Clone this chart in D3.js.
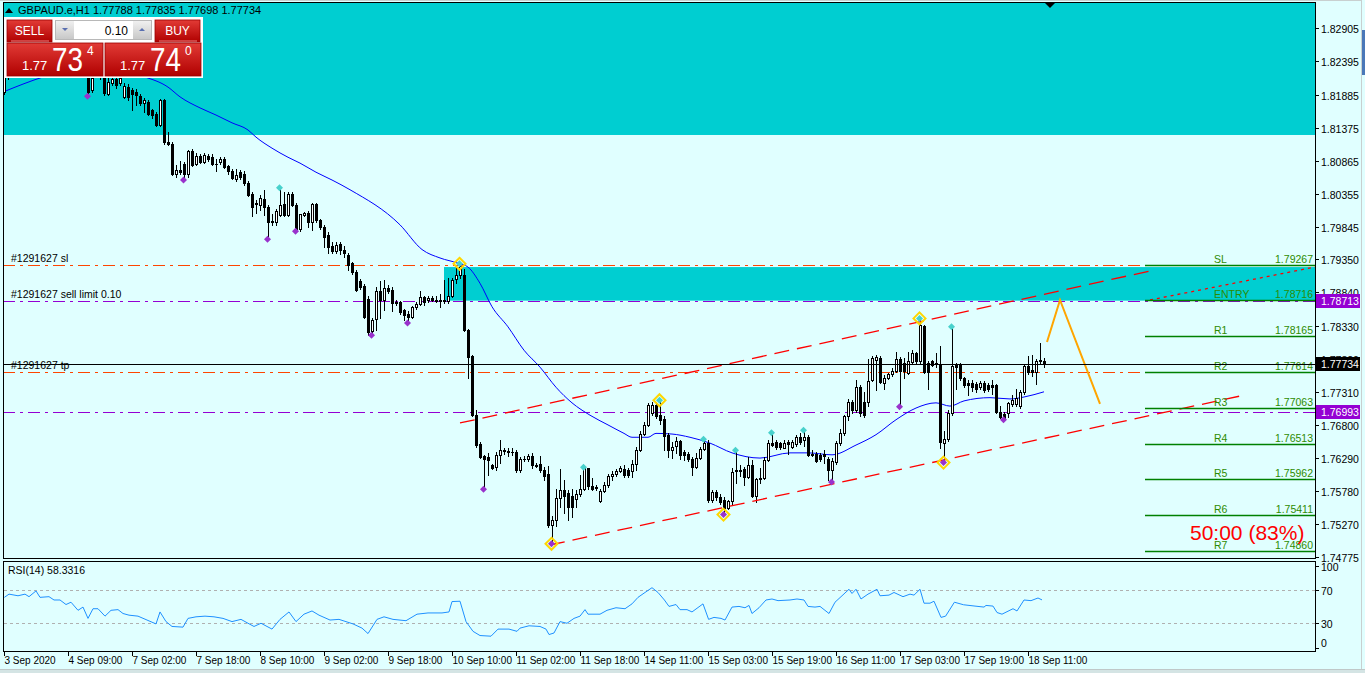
<!DOCTYPE html>
<html><head><meta charset="utf-8">
<script src="https://cdn.jsdelivr.net/npm/d3@7"></script>
<style>
body{margin:0;background:#e0ffff;overflow:hidden}
svg{display:block}
text{font-family:"Liberation Sans",Arial,sans-serif}
</style>
</head><body>
<svg id="c" width="1365" height="673"></svg>
<script>
// ---------------- DATA ----------------
const symbolTitle = "GBPAUD.e,H1  1.77788 1.77835 1.77698 1.77734";
// candles [open, high, low, close], one per H1 bar
const ohlc = [
[1.8193,1.8224,1.8190,1.8218],[1.8218,1.8230,1.8212,1.8226],[1.8226,1.8238,1.8220,1.8234],[1.8234,1.8240,1.8225,1.8229],
[1.8229,1.8245,1.8226,1.8242],[1.8242,1.8250,1.8236,1.8247],[1.8247,1.8258,1.8240,1.8244],[1.8244,1.8262,1.8241,1.8258],
[1.8258,1.8266,1.8249,1.8252],[1.8252,1.8260,1.8243,1.8246],[1.8246,1.8255,1.8238,1.8251],[1.8251,1.8263,1.8247,1.8260],
[1.8260,1.8268,1.8250,1.8254],[1.8254,1.8259,1.8240,1.8243],[1.8243,1.8252,1.8236,1.8248],[1.8248,1.8254,1.8235,1.8238],
[1.8238,1.8245,1.8228,1.8232],[1.8232,1.8240,1.8224,1.8236],[1.8236,1.8242,1.8225,1.8228],[1.8228,1.8235,1.8219,1.8223],
[1.8223,1.8230,1.8215,1.8217],[1.8216,1.8225,1.8186,1.8193],[1.8196,1.8222,1.8193,1.8214],[1.8216,1.8232,1.8216,1.8228],
[1.8228,1.8232,1.8212,1.8215],[1.8216,1.8222,1.8188,1.8191],[1.8190,1.8214,1.8188,1.8208],[1.8206,1.8216,1.8203,1.8212],
[1.8212,1.8216,1.8199,1.8203],[1.8206,1.8220,1.8203,1.8214],[1.8185,1.8206,1.8183,1.8201],[1.8200,1.8204,1.8180,1.8185],
[1.8195,1.8199,1.8165,1.8190],[1.8193,1.8197,1.8172,1.8188],[1.8187,1.8190,1.8172,1.8175],[1.8175,1.8183,1.8162,1.8180],
[1.8177,1.8180,1.8157,1.8159],[1.8165,1.8167,1.8152,1.8157],[1.8158,1.8162,1.8140,1.8142],[1.8142,1.8182,1.8140,1.8180],
[1.8180,1.8182,1.8113,1.8116],[1.8116,1.8131,1.8111,1.8112],[1.8112,1.8116,1.8065,1.8067],[1.8067,1.8080,1.8062,1.8072],
[1.8072,1.8086,1.8067,1.8069],[1.8082,1.8085,1.8057,1.8067],[1.8067,1.8103,1.8062,1.8101],[1.8101,1.8104,1.8078,1.8080],
[1.8082,1.8098,1.8080,1.8094],[1.8094,1.8097,1.8083,1.8085],[1.8085,1.8099,1.8083,1.8096],[1.8094,1.8097,1.8087,1.8090],
[1.8093,1.8097,1.8080,1.8082],[1.8082,1.8090,1.8071,1.8081],[1.8085,1.8093,1.8081,1.8090],[1.8089,1.8092,1.8075,1.8077],
[1.8078,1.8080,1.8067,1.8071],[1.8071,1.8074,1.8058,1.8060],[1.8059,1.8074,1.8056,1.8065],[1.8069,1.8072,1.8059,1.8062],
[1.8067,1.8071,1.8050,1.8053],[1.8053,1.8055,1.8032,1.8034],[1.8035,1.8039,1.8001,1.8016],[1.8020,1.8026,1.8006,1.8022],
[1.8019,1.8034,1.8011,1.8030],[1.8028,1.8041,1.8003,1.8016],[1.8016,1.8018,1.7966,1.7992],[1.7992,1.8005,1.7988,1.7994],
[1.7992,1.8012,1.7988,1.8010],[1.8003,1.8045,1.8001,1.8018],[1.8020,1.8039,1.8001,1.8003],[1.8003,1.8038,1.8001,1.8035],
[1.8035,1.8038,1.8017,1.8019],[1.8019,1.8021,1.7978,1.7981],[1.7981,1.8005,1.7979,1.8004],[1.8003,1.8008,1.8001,1.8006],
[1.8006,1.8010,1.7985,1.7992],[1.7992,1.8022,1.7980,1.8020],[1.8020,1.8022,1.7993,1.7995],[1.7995,1.7997,1.7982,1.7984],
[1.7985,1.7988,1.7954,1.7970],[1.7972,1.7977,1.7944,1.7954],[1.7956,1.7962,1.7945,1.7947],[1.7947,1.7962,1.7945,1.7957],
[1.7959,1.7962,1.7943,1.7949],[1.7950,1.7955,1.7939,1.7944],[1.7941,1.7944,1.7918,1.7926],[1.7929,1.7931,1.7912,1.7916],
[1.7916,1.7918,1.7886,1.7888],[1.7901,1.7904,1.7889,1.7892],[1.7894,1.7897,1.7844,1.7846],[1.7874,1.7878,1.7819,1.7823],
[1.7824,1.7845,1.7818,1.7841],[1.7843,1.7893,1.7826,1.7886],[1.7886,1.7902,1.7844,1.7873],[1.7873,1.7903,1.7857,1.7891],
[1.7891,1.7896,1.7883,1.7886],[1.7887,1.7893,1.7856,1.7868],[1.7869,1.7872,1.7865,1.7868],[1.7869,1.7871,1.7851,1.7854],
[1.7857,1.7859,1.7842,1.7849],[1.7851,1.7855,1.7837,1.7846],[1.7846,1.7863,1.7844,1.7861],[1.7861,1.7869,1.7859,1.7866],
[1.7866,1.7886,1.7864,1.7877],[1.7877,1.7879,1.7864,1.7869],[1.7872,1.7879,1.7869,1.7875],[1.7875,1.7878,1.7870,1.7873],
[1.7872,1.7879,1.7869,1.7871],[1.7873,1.7882,1.7861,1.7870],[1.7870,1.7903,1.7868,1.7872],[1.7871,1.7906,1.7868,1.7879],
[1.7879,1.7906,1.7877,1.7903],[1.7905,1.7921,1.7898,1.7911],[1.7911,1.7928,1.7906,1.7924],[1.7911,1.7920,1.7824,1.7826],
[1.7826,1.7828,1.7752,1.7785],[1.7786,1.7788,1.7693,1.7695],[1.7695,1.7703,1.7646,1.7649],[1.7650,1.7653,1.7629,1.7631],
[1.7632,1.7634,1.7581,1.7628],[1.7631,1.7637,1.7603,1.7626],[1.7618,1.7620,1.7612,1.7614],[1.7615,1.7638,1.7610,1.7634],
[1.7634,1.7657,1.7621,1.7642],[1.7641,1.7645,1.7635,1.7640],[1.7640,1.7644,1.7632,1.7638],[1.7639,1.7644,1.7634,1.7639],
[1.7639,1.7641,1.7608,1.7610],[1.7610,1.7630,1.7608,1.7628],[1.7628,1.7632,1.7624,1.7627],[1.7627,1.7635,1.7625,1.7632],
[1.7632,1.7637,1.7613,1.7618],[1.7619,1.7622,1.7615,1.7617],[1.7620,1.7632,1.7608,1.7611],[1.7611,1.7615,1.7595,1.7601],
[1.7604,1.7617,1.7523,1.7526],[1.7526,1.7540,1.7497,1.7534],[1.7534,1.7581,1.7524,1.7567],[1.7567,1.7612,1.7554,1.7580],
[1.7580,1.7595,1.7544,1.7570],[1.7576,1.7580,1.7534,1.7554],[1.7571,1.7581,1.7539,1.7554],[1.7566,1.7580,1.7554,1.7573],
[1.7573,1.7603,1.7570,1.7581],[1.7581,1.7615,1.7580,1.7613],[1.7613,1.7614,1.7581,1.7586],[1.7586,1.7599,1.7580,1.7582],
[1.7585,1.7588,1.7580,1.7583],[1.7563,1.7581,1.7561,1.7578],[1.7578,1.7592,1.7577,1.7587],[1.7587,1.7605,1.7584,1.7601],
[1.7601,1.7609,1.7596,1.7605],[1.7605,1.7612,1.7601,1.7609],[1.7609,1.7617,1.7607,1.7613],[1.7612,1.7619,1.7600,1.7603],
[1.7610,1.7613,1.7600,1.7603],[1.7609,1.7626,1.7600,1.7620],[1.7620,1.7646,1.7611,1.7642],[1.7642,1.7671,1.7640,1.7666],
[1.7666,1.7685,1.7665,1.7680],[1.7680,1.7713,1.7678,1.7711],[1.7698,1.7716,1.7695,1.7711],[1.7711,1.7716,1.7690,1.7694],
[1.7695,1.7718,1.7682,1.7687],[1.7689,1.7693,1.7642,1.7663],[1.7665,1.7667,1.7631,1.7642],[1.7642,1.7653,1.7629,1.7646],
[1.7647,1.7662,1.7637,1.7655],[1.7656,1.7657,1.7628,1.7633],[1.7638,1.7642,1.7626,1.7634],[1.7636,1.7638,1.7624,1.7627],
[1.7627,1.7630,1.7603,1.7616],[1.7616,1.7637,1.7614,1.7629],[1.7629,1.7646,1.7627,1.7643],[1.7643,1.7658,1.7641,1.7652],
[1.7652,1.7657,1.7562,1.7564],[1.7564,1.7580,1.7561,1.7577],[1.7577,1.7580,1.7564,1.7569],[1.7569,1.7574,1.7559,1.7562],
[1.7565,1.7569,1.7542,1.7552],[1.7552,1.7565,1.7550,1.7563],[1.7563,1.7613,1.7558,1.7608],[1.7610,1.7641,1.7590,1.7609],
[1.7609,1.7619,1.7601,1.7611],[1.7612,1.7615,1.7587,1.7600],[1.7600,1.7631,1.7598,1.7618],[1.7618,1.7626,1.7569,1.7571],
[1.7571,1.7599,1.7562,1.7597],[1.7597,1.7613,1.7590,1.7599],[1.7598,1.7631,1.7597,1.7626],[1.7626,1.7657,1.7625,1.7652],
[1.7652,1.7668,1.7647,1.7649],[1.7654,1.7657,1.7643,1.7646],[1.7652,1.7654,1.7643,1.7646],[1.7645,1.7657,1.7644,1.7652],
[1.7653,1.7657,1.7636,1.7651],[1.7646,1.7657,1.7644,1.7654],[1.7651,1.7665,1.7647,1.7661],[1.7661,1.7667,1.7651,1.7654],
[1.7657,1.7672,1.7647,1.7661],[1.7661,1.7665,1.7632,1.7634],[1.7636,1.7641,1.7632,1.7634],[1.7636,1.7639,1.7623,1.7625],
[1.7634,1.7637,1.7625,1.7627],[1.7636,1.7641,1.7621,1.7632],[1.7628,1.7631,1.7596,1.7610],[1.7610,1.7629,1.7592,1.7625],
[1.7623,1.7655,1.7620,1.7652],[1.7652,1.7673,1.7649,1.7668],[1.7668,1.7695,1.7665,1.7693],[1.7693,1.7720,1.7688,1.7716],
[1.7716,1.7719,1.7698,1.7703],[1.7703,1.7749,1.7700,1.7739],[1.7739,1.7742,1.7694,1.7698],[1.7716,1.7731,1.7692,1.7695],
[1.7716,1.7781,1.7709,1.7748],[1.7749,1.7786,1.7747,1.7783],[1.7780,1.7788,1.7734,1.7784],[1.7783,1.7786,1.7744,1.7746],
[1.7745,1.7757,1.7735,1.7753],[1.7753,1.7760,1.7751,1.7758],[1.7758,1.7767,1.7756,1.7763],[1.7763,1.7792,1.7762,1.7781],
[1.7781,1.7784,1.7708,1.7763],[1.7776,1.7783,1.7752,1.7763],[1.7760,1.7792,1.7758,1.7779],[1.7777,1.7795,1.7775,1.7791],
[1.7790,1.7792,1.7776,1.7779],[1.7779,1.7844,1.7775,1.7834],[1.7832,1.7834,1.7760,1.7762],[1.7776,1.7778,1.7735,1.7762],
[1.7778,1.7780,1.7770,1.7772],[1.7776,1.7790,1.7769,1.7774],[1.7774,1.7801,1.7644,1.7653],[1.7652,1.7670,1.7622,1.7658],
[1.7658,1.7703,1.7656,1.7698],[1.7698,1.7831,1.7695,1.7770],[1.7772,1.7775,1.7736,1.7769],[1.7772,1.7775,1.7749,1.7752],
[1.7752,1.7754,1.7738,1.7741],[1.7745,1.7749,1.7726,1.7741],[1.7745,1.7749,1.7733,1.7738],[1.7743,1.7746,1.7731,1.7735],
[1.7738,1.7748,1.7736,1.7745],[1.7745,1.7747,1.7731,1.7734],[1.7741,1.7744,1.7733,1.7736],[1.7741,1.7749,1.7728,1.7739],
[1.7741,1.7743,1.7698,1.7700],[1.7700,1.7709,1.7690,1.7692],[1.7697,1.7700,1.7688,1.7691],[1.7698,1.7716,1.7692,1.7713],
[1.7712,1.7726,1.7709,1.7718],[1.7712,1.7735,1.7709,1.7721],[1.7709,1.7734,1.7706,1.7730],[1.7730,1.7772,1.7728,1.7770],
[1.7770,1.7786,1.7759,1.7762],[1.7764,1.7788,1.7755,1.7762],[1.7762,1.7782,1.7743,1.7779],[1.7779,1.7806,1.7774,1.7780],
[1.77788,1.77835,1.77698,1.77734]
];
// moving average (blue) read at bar positions
const maBars = [0,10,16,24,35,41,44,49,53,57,61,63,67,71,74,78,82,86.5,99,104.5,109,113.5,116,119,122,126,130,134,138,142,146.5,151,155,157,161,163,167,171.5,176.5,182,189,196.5,201,207,213,218,223,228,233,236.5,240,246.5,251.5,255,260];
const maVals = [1.8193,1.8216,1.8226,1.8228,1.8216,1.8200,1.8185,1.8168,1.8157,1.8145,1.8134,1.8123,1.8106,1.8092,1.8083,1.8069,1.8057,1.8042,1.7988,1.7950,1.7937,1.7929,1.7923,1.7898,1.7862,1.7831,1.7795,1.7769,1.7738,1.7714,1.7695,1.7680,1.7667,1.7661,1.7661,1.7667,1.7666,1.7661,1.7652,1.7637,1.7629,1.7637,1.7637,1.7634,1.7649,1.7665,1.7688,1.7706,1.7714,1.7709,1.7717,1.7722,1.7720,1.7723,1.7731];
// fractals
const fractalLowBars = [21,45,66,73,92,101,120,137,180,207,224,235,250];
const fractalHighBars = [69,114,145,164,175,183,192,200,229,237];
const majorBars = [114,137,164,180,229,235];
// RSI(14)
const rsiBars = [0.1,1.25,3.5,5.25,6.25,8,9,11.25,12.5,14,15.5,16.75,18.5,19.75,21,22.25,23.5,25.25,26.75,28.5,29.75,31.25,33.5,35.75,38,39,40.5,42,44.75,46,48,50.25,52.5,54.75,57,59.25,61,62.5,64.25,67,69,71.25,73,75,77,78.75,81.5,83.75,87.25,89.5,91,93.25,95,97.25,100.5,103.25,106,109.5,111.25,112,114,115.5,117.25,119,121.75,123.5,126.25,128.25,129,131.25,134,135.5,136.25,137.5,139,140.75,142.5,144,145.25,146,149,150.75,153,155.25,157,158.5,160.25,162,163.5,165.1,166.25,168,169,170.75,172,174.75,176.15,177.5,179.25,180.25,182,183.75,185.25,186.25,187,188.75,190.5,192,193.5,196.5,198.25,200,201,202.75,204,206.25,207.75,209.5,211.25,212,213,214.25,216,218.25,219,221.25,222.5,224.75,226.5,227.5,229,230,231.5,232.5,234.25,235.4,237.6,239.9,242.75,245,245.5,247.25,248.25,249.5,252.25,253.25,255,256.75,258.5,259.5];
const rsiVals = [61.4,65.3,63.3,65.3,62.2,69.2,61.4,62.2,58.2,58.2,52.7,55.5,45.7,49.6,35.9,47.6,47.6,38.6,45.7,46.5,41.8,39.8,38.6,33.9,29.2,43.7,32.0,26.1,25.3,35.9,37.8,38.6,37.8,35.9,32.0,34.7,30.0,26.1,30.0,22.9,34.7,43.7,32.0,41.0,44.9,39.8,33.9,34.7,29.2,24.1,17.5,34.7,37.8,34.7,33.1,41.0,42.5,42.5,43.7,56.3,56.7,32.0,20.2,15.1,14.3,22.9,22.9,20.2,24.1,26.9,26.1,22.9,16.3,18.2,32.0,30.0,35.9,38.6,46.5,41.0,41.0,45.7,48.8,47.6,53.5,61.4,67.3,73.1,67.3,58.2,50.4,52.7,46.5,46.5,43.7,53.5,34.7,37.1,35.9,33.9,49.6,50.4,48.8,51.6,41.8,48.8,58.2,59.4,57.4,58.2,59.4,58.2,50.4,49.6,50.4,41.8,55.5,63.3,71.2,66.1,71.2,59.4,65.3,71.2,63.3,64.1,67.3,62.2,65.3,64.1,71.2,54.3,54.3,56.7,37.1,38.6,55.5,52.4,50.8,49.6,51.6,50.8,43.0,41.0,47.6,44.9,58.2,57.4,60.6,58.3];
const rsiLevels = [70,30];
const rsiTicks = [100,70,30,0];
// axes
const priceTicks = [1.82905,1.82395,1.81885,1.81375,1.80865,1.80355,1.79845,1.79350,1.78840,1.78330,1.77820,1.77310,1.76800,1.76290,1.75780,1.75270,1.74775];
const timeLabels = ["3 Sep 2020","4 Sep 09:00","7 Sep 02:00","7 Sep 18:00","8 Sep 10:00","9 Sep 02:00","9 Sep 18:00","10 Sep 10:00","11 Sep 02:00","11 Sep 18:00","14 Sep 11:00","15 Sep 03:00","15 Sep 19:00","16 Sep 11:00","17 Sep 03:00","17 Sep 19:00","18 Sep 11:00"];
const timeLabelBars = [0,16,32,48,64,80,96,112,128,144,160,176,192,208,224,240,256];
// zones (supply/demand boxes)
const zoneStartBars = [0,110];
const zoneTops = [1.8400,1.7923];
const zoneBottoms = [1.81263,1.78713];
// order lines
const orderNames = ["#1291627 sl","#1291627 sell limit 0.10","#1291627 tp",""];
const orderPrices = [1.79267,1.78713,1.77614,1.76993];
const orderColors = ["#ff4500","#9400d3","#ff4500","#9400d3"];
// level ladder
const levelNames = ["SL","ENTRY","R1","R2","R3","R4","R5","R6","R7"];
const levelPrices = [1.79267,1.78716,1.78165,1.77614,1.77063,1.76513,1.75962,1.75411,1.74860];
const bidPrice = 1.77734;
// trend channel [bar1, price1, bar2, price2]
const channelUpper = [114,1.76830,286.5,1.79170];
const channelLower = [136.5,1.74952,310.25,1.77261];
const channelExt = [286.5,1.78723,327.75,1.79231];
const forecastBars = [260.75,264,274];
const forecastPrices = [1.78077,1.78723,1.77123];
const timerText = "50:00 (83%)";

// ---------------- DRAW ----------------
const svg = d3.select('#c');
const PL=3, PR=1315, PT=2, PB=558;
const x = d3.scaleLinear().domain([0,100]).range([4,404]);
const y = d3.scaleLinear().domain([1.74775,1.82905]).range([556.5,28.3]);
const cx = i => Math.round(x(i));

svg.append('rect').attr('width',1365).attr('height',673).attr('fill','#e0ffff');
const defs = svg.append('defs');
defs.append('clipPath').attr('id','mainClip').append('rect').attr('x',PL).attr('y',PT).attr('width',PR-PL).attr('height',PB-PT);
const g = svg.append('g').attr('clip-path','url(#mainClip)');

// zones
zoneStartBars.forEach((b,k)=>{
  const x0 = k===0 ? PL : cx(b);
  g.append('rect').attr('x',x0).attr('y',y(zoneTops[k])).attr('width',PR-x0)
   .attr('height',y(zoneBottoms[k])-y(zoneTops[k])).attr('fill','#00ced1');
});

// order lines
orderPrices.forEach((p,k)=>{
  const yy = Math.round(y(p))+0.5;
  g.append('line').attr('x1',PL).attr('x2',PR).attr('y1',yy).attr('y2',yy)
   .attr('stroke',orderColors[k]).attr('stroke-width',1.2).attr('stroke-dasharray','12,5,3,5');
  if(orderNames[k]) g.append('text').attr('x',11).attr('y',yy-4).attr('font-size',10.5).attr('fill','#000').text(orderNames[k]);
});

// MA
g.append('path').datum(maBars.map((b,k)=>[x(b),y(maVals[k])]))
 .attr('d',d3.line().curve(d3.curveMonotoneX)).attr('fill','none').attr('stroke','#0000ff').attr('stroke-width',1);

// candles
const cg = g.append('g').attr('shape-rendering','crispEdges');
ohlc.forEach((d,i)=>{
  const [o,h,l,c] = d; const X = cx(i);
  cg.append('line').attr('x1',X+0.5).attr('x2',X+0.5).attr('y1',Math.round(y(h))).attr('y2',Math.round(y(l))+1).attr('stroke','#000');
  const top = Math.round(y(Math.max(o,c))), bot = Math.round(y(Math.min(o,c)));
  if(c < o || bot-top<2){
    cg.append('rect').attr('x',X-1).attr('y',top).attr('width',3).attr('height',Math.max(1,bot-top+1)).attr('fill','#000');
  } else {
    cg.append('rect').attr('x',X-0.5).attr('y',top+0.5).attr('width',2).attr('height',bot-top).attr('fill','#fff').attr('stroke','#000');
  }
});

// channel lines
function seg(a, color, dash, w){
  g.append('line').attr('x1',x(a[0])).attr('y1',y(a[1])).attr('x2',x(a[2])).attr('y2',y(a[3]))
   .attr('stroke',color).attr('stroke-width',w).attr('stroke-dasharray',dash);
}
seg(channelUpper,'#ff0000','15,8',1.3);
seg(channelLower,'#ff0000','15,8',1.3);
seg(channelExt,'#ff0000','3,4',1.3);

// fractals
function diamond(X,Y,r){return `M${X},${Y-r}L${X+r},${Y}L${X},${Y+r}L${X-r},${Y}Z`;}
fractalLowBars.forEach(b=>{
  const X=cx(b)-0.5, Y=y(ohlc[b][2]);
  if(majorBars.includes(b)) g.append('path').attr('d',diamond(X,Y,6)).attr('fill','none').attr('stroke','#ffd700').attr('stroke-width',2);
  g.append('path').attr('d',diamond(X,Y,3.5)).attr('fill','#9932cc');
});
fractalHighBars.forEach(b=>{
  const X=cx(b)-0.5, Y=y(ohlc[b][1]);
  if(majorBars.includes(b)) g.append('path').attr('d',diamond(X,Y,6)).attr('fill','none').attr('stroke','#ffd700').attr('stroke-width',2);
  g.append('path').attr('d',diamond(X,Y,3.5)).attr('fill','#48d1cc');
});

// level ladder
levelPrices.forEach((p,k)=>{
  const yy = Math.round(y(p))+0.5;
  g.append('line').attr('x1',1145).attr('x2',PR).attr('y1',yy).attr('y2',yy).attr('stroke','#008000').attr('stroke-width',1.3);
  g.append('text').attr('x',1214).attr('y',yy-3).attr('font-size',10.5).attr('fill','#2e8b00').text(levelNames[k]);
  g.append('text').attr('x',1313).attr('y',yy-3).attr('font-size',10.5).attr('fill','#2e8b00').attr('text-anchor','end').text(p.toFixed(5));
});

// forecast
g.append('path').datum(forecastBars.map((b,k)=>[x(b),y(forecastPrices[k])]))
 .attr('d',d3.line()).attr('fill','none').attr('stroke','#ffa500').attr('stroke-width',2);

// bid line
const by = Math.round(y(bidPrice))+0.5;
g.append('line').attr('x1',PL).attr('x2',PR).attr('y1',by).attr('y2',by).attr('stroke','#000').attr('stroke-width',1);

// timer
g.append('text').attr('x',1190).attr('y',540).attr('font-size',21).attr('fill','#ff0000').text(timerText);

// shift marker
svg.append('path').attr('d','M1045,3L1055,3L1050,8Z').attr('fill','#000');

// title
svg.append('path').attr('d','M5,13L9,8L13,13Z').attr('fill','#000');
svg.append('text').attr('x',18).attr('y',14).attr('font-size',11).attr('fill','#000').text(symbolTitle);

// trade panel
const grad = defs.append('linearGradient').attr('id','red').attr('x1',0).attr('x2',0).attr('y1',0).attr('y2',1);
grad.append('stop').attr('offset','0%').attr('stop-color','#e23b36');
grad.append('stop').attr('offset','100%').attr('stop-color','#b00000');
const gray = defs.append('linearGradient').attr('id','gray').attr('x1',0).attr('x2',0).attr('y1',0).attr('y2',1);
gray.append('stop').attr('offset','0%').attr('stop-color','#f0f0f0');
gray.append('stop').attr('offset','100%').attr('stop-color','#c8c8c8');
const tp = svg.append('g');
tp.append('rect').attr('x',4).attr('y',17).attr('width',199).attr('height',61).attr('fill','#ffffff');
tp.append('rect').attr('x',7).attr('y',20).attr('width',45).attr('height',22).attr('fill','url(#red)').attr('stroke','#9a0000').attr('stroke-width',0.8);
tp.append('rect').attr('x',155).attr('y',20).attr('width',45).attr('height',22).attr('fill','url(#red)').attr('stroke','#9a0000').attr('stroke-width',0.8);
tp.append('line').attr('x1',11).attr('x2',49).attr('y1',41).attr('y2',41).attr('stroke','#f08080');
tp.append('line').attr('x1',159).attr('x2',197).attr('y1',41).attr('y2',41).attr('stroke','#f08080');
tp.append('text').attr('x',29.5).attr('y',35).attr('text-anchor','middle').attr('font-size',12).attr('fill','#fff').text('SELL');
tp.append('text').attr('x',177.5).attr('y',35).attr('text-anchor','middle').attr('font-size',12).attr('fill','#fff').text('BUY');
tp.append('rect').attr('x',55.5).attr('y',20.5).attr('width',96).attr('height',19).attr('fill','#fff').attr('stroke','#b8b8b8');
tp.append('rect').attr('x',56).attr('y',21).attr('width',18).attr('height',18).attr('fill','url(#gray)');
tp.append('rect').attr('x',133).attr('y',21).attr('width',18).attr('height',18).attr('fill','url(#gray)');
tp.append('path').attr('d','M62,28L68,28L65,31Z').attr('fill','#5a6fb0');
tp.append('path').attr('d','M139,31L145,31L142,28Z').attr('fill','#5a6fb0');
tp.append('text').attr('x',128).attr('y',35).attr('text-anchor','end').attr('font-size',12).attr('fill','#000').text('0.10');
[[7,'73','4'],[105,'74','0']].forEach(([bx,big,sup])=>{
  tp.append('rect').attr('x',bx).attr('y',43).attr('width',96).attr('height',33).attr('fill','url(#red)').attr('stroke','#9a0000').attr('stroke-width',0.8);
  tp.append('text').attr('x',bx+15).attr('y',70).attr('font-size',13).attr('fill','#fff').text('1.77');
  tp.append('text').attr('x',bx+45).attr('y',71).attr('font-size',34).attr('fill','#fff')
    .attr('textLength',31).attr('lengthAdjust','spacingAndGlyphs').text(big);
  tp.append('text').attr('x',bx+80).attr('y',55).attr('font-size',12).attr('fill','#fff').text(sup);
});

// main frame & price axis
svg.append('rect').attr('x',PL+0.5).attr('y',PT+0.5).attr('width',PR-PL).attr('height',PB-PT).attr('fill','none').attr('stroke','#000');
priceTicks.forEach(p=>{
  const yy = Math.round(y(p))+0.5;
  svg.append('line').attr('x1',PR).attr('x2',PR+4).attr('y1',yy).attr('y2',yy).attr('stroke','#000');
  svg.append('text').attr('x',PR+6).attr('y',yy+4).attr('font-size',10.5).attr('fill','#000').text(p.toFixed(5));
});
function priceBox(p, bg){
  const yy = Math.round(y(p));
  svg.append('rect').attr('x',PR+1).attr('y',yy-7).attr('width',44).attr('height',14).attr('fill',bg);
  svg.append('text').attr('x',PR+6).attr('y',yy+4).attr('font-size',10.5).attr('fill','#fff').text(p.toFixed(5));
}
priceBox(orderPrices[1],'#9400d3');
priceBox(bidPrice,'#000');
priceBox(orderPrices[3],'#9400d3');

// RSI panel
const RT=561, RB=651;
const ry = d3.scaleLinear().domain([0,100]).range([648,565.5]);
svg.append('rect').attr('x',PL+0.5).attr('y',RT+0.5).attr('width',PR-PL).attr('height',RB-RT).attr('fill','#e0ffff').attr('stroke','#000');
rsiLevels.forEach(v=>{
  svg.append('line').attr('x1',PL+1).attr('x2',PR).attr('y1',Math.round(ry(v))+0.5).attr('y2',Math.round(ry(v))+0.5)
   .attr('stroke','#b0b0b0').attr('stroke-dasharray','3,3');
});
svg.append('path').datum(rsiBars.map((b,k)=>[x(b),ry(rsiVals[k])]))
 .attr('d',d3.line()).attr('fill','none').attr('stroke','#1e90ff').attr('stroke-width',1);
svg.append('text').attr('x',8).attr('y',574).attr('font-size',10.5).attr('fill','#000').text('RSI(14) 58.3316');
rsiTicks.forEach(v=>{
  const yy = Math.round(ry(v))+0.5;
  svg.append('line').attr('x1',PR).attr('x2',PR+4).attr('y1',yy).attr('y2',yy).attr('stroke','#000');
  svg.append('text').attr('x',PR+6).attr('y',Math.min(yy+4,RB-4)).attr('font-size',10.5).attr('fill','#000').text(v);
});

// time axis
timeLabelBars.forEach((b,k)=>{
  const X = cx(b)+0.5;
  svg.append('line').attr('x1',X).attr('x2',X).attr('y1',RB).attr('y2',RB+5).attr('stroke','#000');
  svg.append('text').attr('x',X).attr('y',664).attr('font-size',10).attr('fill','#000').text(timeLabels[k]);
});

// window edges
svg.append('rect').attr('x',0).attr('y',669).attr('width',1365).attr('height',4).attr('fill','#d4e4e4');
svg.append('line').attr('x1',0).attr('x2',1365).attr('y1',669.5).attr('y2',669.5).attr('stroke','#c0c8c8');
svg.append('line').attr('x1',1361.5).attr('x2',1361.5).attr('y1',0).attr('y2',669).attr('stroke','#c8d0d0');
svg.append('rect').attr('x',1362).attr('y',30).attr('width',3).attr('height',45).attr('fill','#4a78b8');
svg.append('line').attr('x1',0).attr('x2',1361).attr('y1',0.5).attr('y2',0.5).attr('stroke','#c8d0d0');
</script>
</body></html>
